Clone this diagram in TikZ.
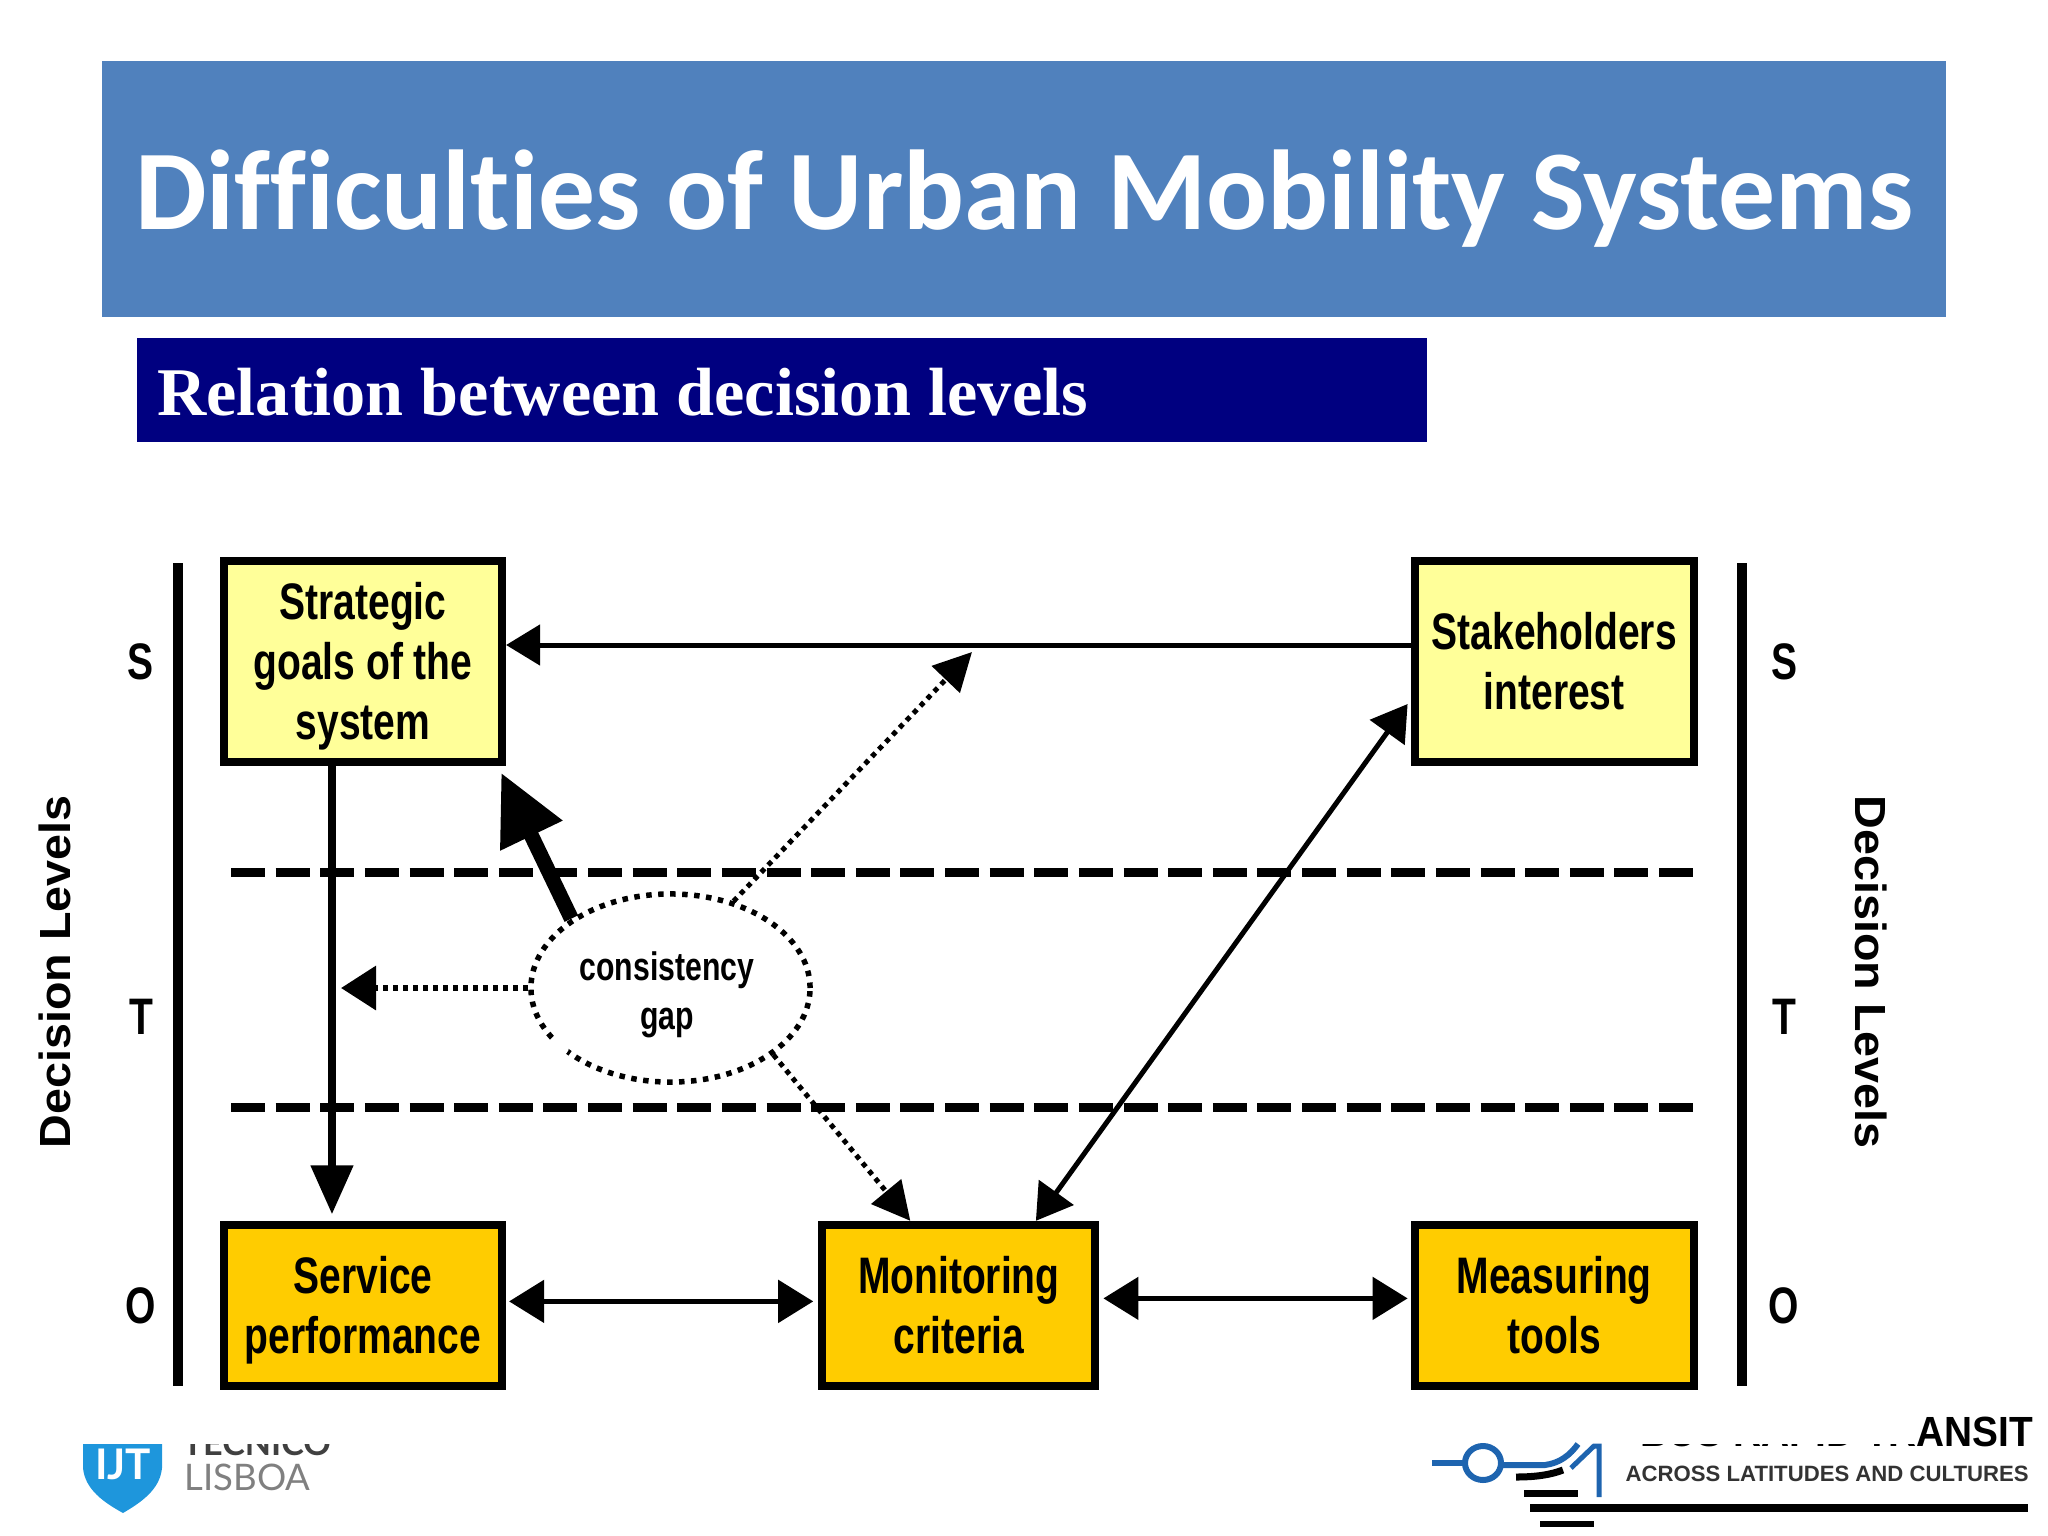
\documentclass[tikz,border=0pt]{standalone}
\usepackage{xcolor}
\usepackage{fontspec}
\usepackage{tikz}
\usetikzlibrary{arrows.meta,shapes.geometric}
\setmainfont{Liberation Sans}
\newfontfamily\narrowfont[FakeStretch=0.76]{Liberation Sans}
\newfontfamily\widefont[FakeStretch=1.07]{Liberation Sans}
\newfontfamily\brtfont[FakeStretch=0.92]{Liberation Sans}
\newfontfamily\titlefont[Ligatures=NoCommon]{Carlito}
\newfontfamily\serifhead{Liberation Serif}
\newfontfamily\logofont{Lato}
\newcommand{\lineup}{\rule{0pt}{14.3pt}}
\newcommand{\linedown}{\rule[-4pt]{0pt}{4pt}}
\definecolor{titleblue}{RGB}{80,129,189}
\definecolor{headnavy}{RGB}{0,0,128}
\definecolor{upperbox}{RGB}{255,255,153}
\definecolor{lowerbox}{RGB}{255,204,0}
\definecolor{shieldblue}{RGB}{30,150,220}
\definecolor{logoblue}{RGB}{30,100,175}
\begin{document}
\begin{tikzpicture}[x=0.01cm, y=-0.01cm,
  main/.style = {draw, line width=.08cm, inner sep=0pt, align=center, minimum width=2.78cm, font=\narrowfont\bfseries\fontsize{14.6}{17}\selectfont},
  top/.style = {main, fill=upperbox, minimum height=2.00cm},
  low/.style = {main, fill=lowerbox, minimum height=1.61cm},
  level/.style = {font=\narrowfont\bfseries\fontsize{14.6}{16}\selectfont},
  side/.style = {font=\widefont\bfseries\fontsize{12.4}{14}\selectfont},
  bar/.style = {line width=.1cm},
  split/.style = {line width=.09cm, dash pattern=on .34cm off .106cm},
  solid line/.style = {line width=.05cm, -{Triangle[length=.34cm,width=.4cm]}},
  both line/.style = {line width=.05cm, {Triangle[length=.35cm,width=.42cm]}-{Triangle[length=.35cm,width=.42cm]}},
  dot line/.style = {line width=.05cm, dash pattern=on .05cm off .05cm, -{Triangle[length=.38cm,width=.38cm,sep=0pt]}}]
\useasboundingbox (0,0) rectangle (2048,1536);
\node[fill=titleblue, minimum width=18.42cm, minimum height=2.56cm, inner sep=0pt] (banner) at (1024,189) {};
\node[text=white, font=\titlefont\bfseries\fontsize{32.3}{36}\selectfont] (title) at (1024,199) {Difficulties of Urban Mobility Systems};
\node[fill=headnavy, minimum width=12.90cm, minimum height=1.03cm, inner sep=0pt] (sub) at (782,390) {};
\node[text=white, anchor=west, font=\serifhead\bfseries\fontsize{19.4}{22}\selectfont] (subtext) at (145,392) {Relation between decision levels};
\draw[split] (231,872) -- (1694,872);
\draw[split] (231,1107) -- (1694,1107);
\draw[bar] (178,563) -- (178,1386);
\draw[bar] (1742,563) -- (1742,1386);
\node[top] (goals) at (363,661.5) {\lineup Strategic\\goals of the\\system\linedown};
\node[low, node distance=6.435cm, below of=goals] (service) {\lineup Service\\performance\linedown};
\node[low, minimum width=2.73cm, node distance=5.955cm, right of=service] (criteria) {\lineup Monitoring\\criteria\linedown};
\node[low, minimum width=2.79cm, node distance=5.95cm, right of=criteria] (tools) {\lineup Measuring\\tools\linedown};
\node[top, minimum width=2.79cm, node distance=6.435cm, above of=tools] (stake) {\lineup Stakeholders\\interest\linedown};
\node[draw, ellipse, minimum width=2.79cm, minimum height=1.88cm, inner sep=0pt, line width=.055cm, dash pattern=on .055cm off .065cm, align=center, font=\narrowfont\bfseries\fontsize{11.3}{13.8}\selectfont] (gap) at (670.5,988) {\rule{0pt}{12pt}consistency\kern2pt\\gap\kern2pt};
\fill[white] (560,1047) circle (9);
\node[level] (s1) at (141,662) {S};
\node[level] (t1) at (141,1017) {T};
\node[level] (o1) at (141,1306) {O};
\node[level] (s2) at (1784,662) {S};
\node[level] (t2) at (1784,1017) {T};
\node[level] (o2) at (1784,1306) {O};
\node[side, rotate=90] (left) at (55,972) {Decision Levels};
\node[side, rotate=-90] (right) at (1871,972) {Decision Levels};
\coordinate (gapleft) at (341,988);
\coordinate (gapup) at (972,652);
\draw[solid line] ([yshift=.165cm]stake.west) -- ([yshift=.165cm]goals.east);
\draw[line width=.08cm, -{Triangle[length=.49cm,width=.41cm]}] ([xshift=-.31cm]goals.south) -- ([xshift=-.31cm,yshift=.065cm]service.north);
\draw[line width=.15cm, -{Triangle[length=.7cm,width=.65cm]}] (gap.145) -- ([shift={(-.05cm,-.07cm)}]goals.south east);
\draw[dot line, line width=.065cm, -{Triangle[length=.35cm,width=.43cm]}] (gap.west) -- (gapleft);
\draw[dot line] (gap.54) -- (gapup);
\draw[dot line] (gap.-33) -- ([xshift=.92cm]criteria.north west);
\draw[both line] ([xshift=.77cm]criteria.north) -- ([shift={(-.03cm,-.425cm)}]stake.west);
\draw[both line] ([shift={(.03cm,.04cm)}]service.east) -- ([shift={(-.05cm,.04cm)}]criteria.west);
\draw[both line] ([shift={(.04cm,.07cm)}]criteria.east) -- ([shift={(-.03cm,.07cm)}]tools.west);
\fill[shieldblue] (83,1444) -- (162,1444) -- (162,1468) .. controls (160,1490) and (140,1503) .. (123,1513) .. controls (105,1503) and (85,1490) .. (83,1468) -- cycle;
\node[text=white, font=\logofont\bfseries\fontsize{12}{14}\selectfont] (shield) at (123,1464) {IJT};
\node[anchor=west, inner sep=0pt, text=gray, font=\logofont\fontsize{10.4}{13}\selectfont] (lisboa) at (184,1477) {LISBOA};
\begin{scope}
\clip (170,1444) rectangle (350,1470);
\node[anchor=west, inner sep=0pt, text=black!75, font=\logofont\bfseries\fontsize{9.7}{13}\selectfont] (tecnico) at (182,1443) {TECNICO};
\end{scope}
\begin{scope}
\clip (1917,1400) -- (2048,1400) -- (2048,1462) -- (1600,1462) -- (1600,1444) -- (1917,1444) -- cycle;
\node[anchor=east, inner sep=0pt, font=\brtfont\bfseries\fontsize{12}{14}\selectfont] (brt) at (2034,1432) {BUS RAPID TRANSIT};
\end{scope}
\node[anchor=west, inner sep=0pt, text=black!80, font=\bfseries\fontsize{6.3}{9}\selectfont] (across) at (1625,1474) {ACROSS LATITUDES AND CULTURES};
\draw[logoblue, line width=.06cm] (1432,1463) -- (1465,1463);
\draw[logoblue, line width=.06cm] (1483,1463) ellipse (18 and 17);
\draw[logoblue, line width=.06cm] (1501,1465) -- (1545,1465) .. controls (1560,1463) and (1570,1455) .. (1578,1444);
\draw[logoblue, line width=.05cm] (1571,1468) -- (1594,1446) -- (1599,1446) -- (1599,1497);
\draw[line width=.07cm] (1516,1477) .. controls (1535,1477) and (1550,1475) .. (1563,1470);
\draw[line width=.07cm] (1524,1493) -- (1578,1493);
\draw[line width=.08cm] (1530,1508) -- (2028,1508);
\draw[line width=.06cm] (1540,1524) -- (1594,1524);
\end{tikzpicture}
\end{document}
